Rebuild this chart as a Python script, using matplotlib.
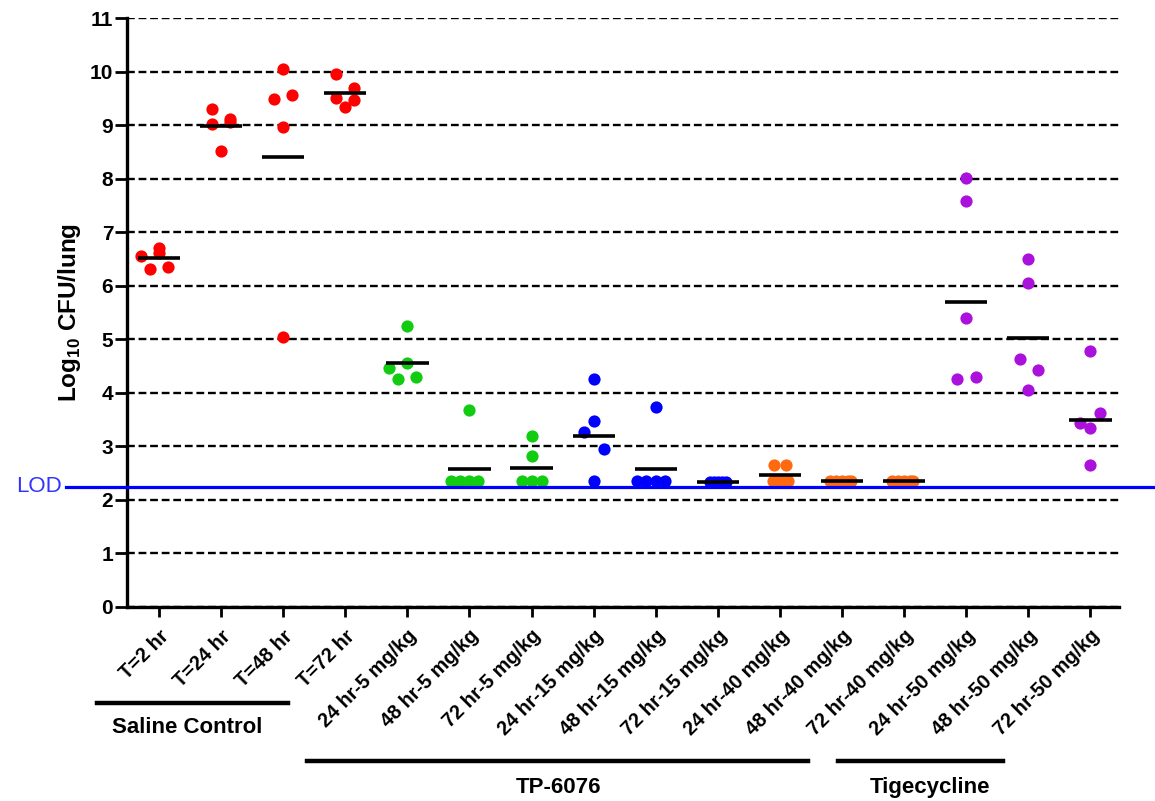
import matplotlib.pyplot as plt
import matplotlib.transforms as mtransforms

plt.rcParams['font.family'] = ['Liberation Sans', 'DejaVu Sans']
plt.rcParams['font.weight'] = 'bold'
plt.rcParams['mathtext.fontset'] = 'custom'
plt.rcParams['mathtext.bf'] = 'Liberation Sans:bold'
plt.rcParams['mathtext.rm'] = 'Liberation Sans:bold'

labels = ['T=2 hr', 'T=24 hr', 'T=48 hr', 'T=72 hr',
          '24 hr-5 mg/kg', '48 hr-5 mg/kg', '72 hr-5 mg/kg',
          '24 hr-15 mg/kg', '48 hr-15 mg/kg', '72 hr-15 mg/kg',
          '24 hr-40 mg/kg', '48 hr-40 mg/kg', '72 hr-40 mg/kg',
          '24 hr-50 mg/kg', '48 hr-50 mg/kg', '72 hr-50 mg/kg']

# log10 CFU/lung, one list per group
t2 = [6.55, 6.70, 6.62, 6.32, 6.35]
t24 = [9.31, 9.03, 9.12, 9.06, 8.51]
t48 = [10.04, 9.56, 9.48, 8.96, 5.04]
t72 = [9.96, 9.70, 9.51, 9.47, 9.33]
tp5_24 = [5.24, 4.47, 4.55, 4.25, 4.29]
tp5_48 = [3.67, 2.35, 2.35, 2.35, 2.35]
tp5_72 = [3.19, 2.82, 2.35, 2.35, 2.35]
tp15_24 = [4.25, 3.47, 3.27, 2.95, 2.35]
tp15_48 = [3.73, 2.35, 2.35, 2.35, 2.35]
tp15_72 = [2.34, 2.34, 2.34, 2.34, 2.34]
tp40_24 = [2.65, 2.65, 2.35, 2.35, 2.35]
tp40_48 = [2.35, 2.35, 2.35, 2.35, 2.35]
tp40_72 = [2.35, 2.35, 2.35, 2.35, 2.35]
tig50_24 = [8.01, 7.59, 5.39, 4.25, 4.29]
tig50_48 = [6.50, 6.05, 4.63, 4.42, 4.05]
tig50_72 = [4.79, 3.63, 3.43, 3.34, 2.65]

groups = [t2, t24, t48, t72, tp5_24, tp5_48, tp5_72, tp15_24, tp15_48,
          tp15_72, tp40_24, tp40_48, tp40_72, tig50_24, tig50_48, tig50_72]

# horizontal bars (mean) as drawn in the figure
means = [6.51, 8.99, 8.40, 9.60, 4.56, 2.57, 2.59, 3.19, 2.57, 2.34,
         2.46, 2.35, 2.35, 5.70, 5.03, 3.50]

LOD = 2.25

colors = ['#ff0000'] * 4 + ['#11cc11'] * 3 + ['#0000ff'] * 3 + \
         ['#ff6a10'] * 3 + ['#aa11dd'] * 3

# scatter spread inside each column
jitter = [
    [-0.29, 0, 0, -0.145, 0.145],
    [-0.145, -0.145, 0.145, 0.145, 0],
    [0, 0.145, -0.145, 0, 0],
    [-0.145, 0.145, -0.145, 0.145, 0],
    [0, -0.3, 0, -0.145, 0.145],
    [0, -0.29, -0.145, 0, 0.145],
    [0, 0, -0.16, 0, 0.16],
    [0, 0, -0.16, 0.16, 0],
    [0, -0.3, -0.16, 0, 0.15],
    [-0.13, -0.065, 0, 0.065, 0.13],
    [-0.09, 0.09, -0.11, 0, 0.13],
    [-0.2, -0.1, 0, 0.1, 0.15],
    [-0.2, -0.1, 0, 0.1, 0.15],
    [0, 0, 0, -0.15, 0.15],
    [0, 0, -0.14, 0.15, 0],
    [0, 0.15, -0.16, 0, 0],
]

# name, bar start, bar end, text x (data units)
brackets = [('Saline Control', -1.0, 2.07, 0.45),
            ('TP-6076', 2.38, 10.45, 6.43),
            ('Tigecycline', 10.93, 13.6, 12.42)]
bracket_y = [(-0.163, -0.205), (-0.261, -0.306), (-0.261, -0.306)]

fig = plt.figure(figsize=(11.55, 8.01), dpi=100)
ax = fig.add_axes([0.110, 0.2422, 0.8588, 0.7353])

for i, vals in enumerate(groups):
    xs = [i + d for d in jitter[i]]
    ax.plot(xs, vals, 'o', color=colors[i], markersize=8.8,
            markeredgewidth=0, zorder=3)

for i, m in enumerate(means):
    ax.plot([i - 0.34, i + 0.34], [m, m], color='black', linewidth=2.6,
            solid_capstyle='butt', zorder=4)

ax.set_xlim(-0.515, 15.46)
ax.set_ylim(0, 11)
ax.set_yticks(range(0, 12))
ax.set_xticks(range(len(labels)))
ax.set_xticklabels(labels, rotation=45, ha='right', rotation_mode='anchor',
                   fontsize=14.3, fontweight='bold')
shift = mtransforms.ScaledTranslation(4 / 100, 0, fig.dpi_scale_trans)
for lbl in ax.get_xticklabels():
    lbl.set_transform(lbl.get_transform() + shift)
ax.tick_params(axis='y', labelsize=15, length=9, width=2, pad=1)
ax.tick_params(axis='x', length=7, width=2, pad=7)
for lbl in ax.get_yticklabels():
    lbl.set_fontweight('bold')

ax.yaxis.grid(True, color='black', linestyle=(0, (3.3, 1.6)), linewidth=1.7)
ax.set_axisbelow(True)
ax.spines['right'].set_visible(False)
ax.spines['top'].set_visible(False)
ax.spines['left'].set_linewidth(2.4)
ax.spines['bottom'].set_linewidth(2.4)

ax.set_ylabel(r'Log$_{\mathbf{10}}$ CFU/lung', fontsize=17.5, fontweight='bold')
ax.yaxis.set_label_coords(-0.044, 0.5)

# limit of detection
trans = mtransforms.blended_transform_factory(ax.transAxes, ax.transData)
ax.plot([-0.062, 1.04], [LOD, LOD], color='#0000ff', linewidth=2.3,
        transform=trans, clip_on=False, zorder=5)
ax.text(-0.066, LOD, 'LOD', color='#3333ff', fontsize=16, fontweight='normal',
        ha='right', va='center', transform=trans)

# group brackets under the tick labels
btrans = mtransforms.blended_transform_factory(ax.transData, ax.transAxes)
for (name, x0, x1, xt), (yb, yt) in zip(brackets, bracket_y):
    ax.plot([x0, x1], [yb, yb], color='black', linewidth=3.2,
            transform=btrans, clip_on=False)
    ax.text(xt, yt, name, ha='center', va='center', fontsize=16,
            fontweight='bold', transform=btrans)

plt.savefig('out.png', dpi=100)
